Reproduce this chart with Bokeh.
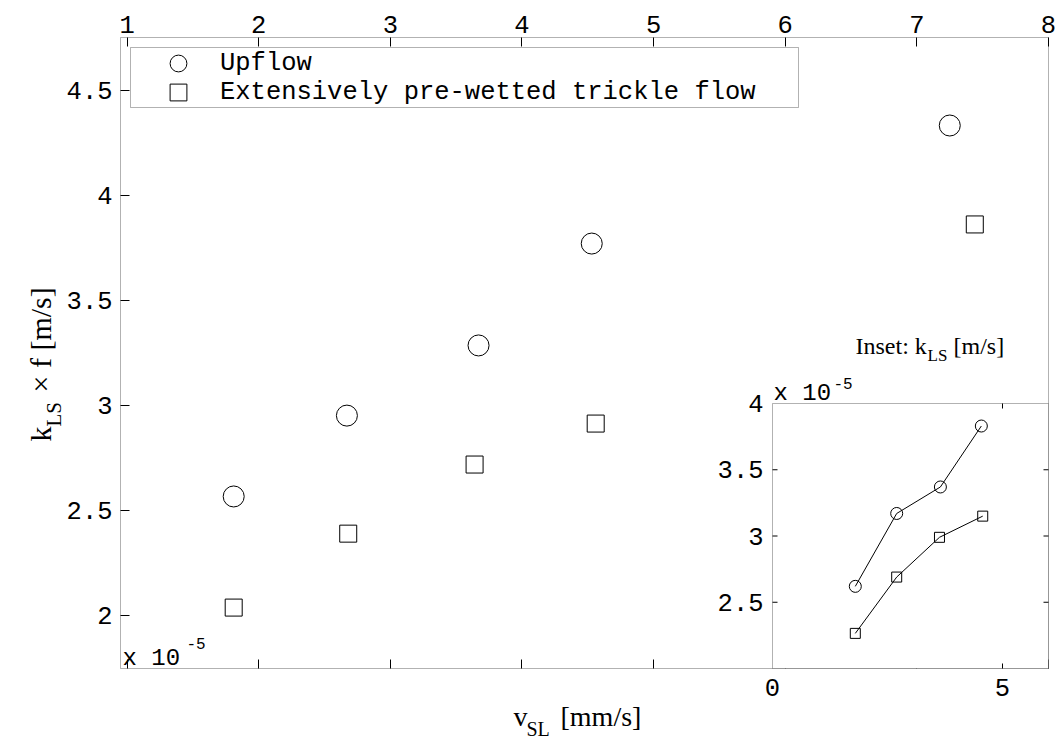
import math
from bokeh.plotting import figure
from bokeh.models import (Range1d, LinearAxis, FixedTicker, Legend, LegendItem,
                          BoxAnnotation, Label, LabelSet, ColumnDataSource)
from bokeh.core.properties import value
from bokeh.embed import file_html
from bokeh.resources import INLINE

# ---------------- data ----------------
# main plot: k_LS x f  [x 1e-5 m/s]  vs  v_SL [mm/s]
vsl_upflow = [1.81, 2.67, 3.67, 4.53, 7.25]
kf_upflow = [2.567, 2.952, 3.286, 3.771, 4.333]
vsl_trickle = [1.81, 2.68, 3.64, 4.56, 7.44]
kf_trickle = [2.038, 2.39, 2.719, 2.914, 3.862]

# inset: k_LS [x 1e-5 m/s] vs v_SL [mm/s]
inset_vsl_upflow = [1.8, 2.7, 3.65, 4.54]
inset_kls_upflow = [2.62, 3.17, 3.37, 3.83]
inset_vsl_trickle = [1.8, 2.7, 3.63, 4.57]
inset_kls_trickle = [2.265, 2.69, 2.99, 3.15]

series_names = ["Upflow", "Extensively pre-wetted trickle flow"]

main_x_ticks = [1, 2, 3, 4, 5, 6, 7, 8]
main_x_tick_labels = ["1", "2", "3", "4", "5", "6", "7", "8"]
main_y_ticks = [2, 2.5, 3, 3.5, 4, 4.5]
main_y_tick_labels = ["2", "2.5", "3", "3.5", "4", "4.5"]
inset_x_ticks = [0, 5]
inset_x_tick_labels = ["0", "5"]
inset_y_ticks = [2.5, 3, 3.5, 4]
inset_y_tick_labels = ["2.5", "3", "3.5", "4"]
inset_y_tick_marks = [2.5, 3, 3.5]
inset_x_tick_marks = [5]

# ---------------- layout constants (canvas pixels) ----------------
W, H = 1059, 743
BOX_L, BOX_R, BOX_T, BOX_B = 120, 1048, 37, 668      # main axes box
INSET_L, INSET_T = 772, 403                          # inset box (shares right/bottom)
X0, X1 = 0.95, 8.0                                   # main data extent of the box
Y0, Y1 = 1.748, 4.752
IX0, IX1 = 0.0, 6.0                                  # inset data extent of its box
IY0, IY1 = 2.0, 4.0

sx = (X1 - X0) / (BOX_R - BOX_L)
sy = (Y1 - Y0) / (BOX_B - BOX_T)
isx = (IX1 - IX0) / (BOX_R - INSET_L)
isy = (IY1 - IY0) / (BOX_B - INSET_T)

MONO = "Liberation Mono"
SERIF = "Liberation Serif"
TICK_FS = "25.5px"

p = figure(x_range=Range1d(X0 - BOX_L * sx, X1 + (W - BOX_R) * sx),
           y_range=Range1d(Y0 - (H - BOX_B) * sy, Y1 + BOX_T * sy),
           x_axis_type=None, y_axis_type=None, title=None,
           width=W, height=H, frame_width=W, frame_height=H, min_border=0,
           output_backend="svg", toolbar_location=None,
           background_fill_color="white", border_fill_color="white",
           outline_line_color=None)
p.extra_x_ranges = {"ix": Range1d(IX0 - INSET_L * isx, IX1 + (W - BOX_R) * isx),
                    "px": Range1d(0, W)}
p.extra_y_ranges = {"iy": Range1d(IY0 - (H - BOX_B) * isy, IY1 + INSET_T * isy),
                    "py": Range1d(H, 0)}


def style_axis(ax, size=TICK_FS, tick_in=9):
    ax.major_tick_in = tick_in
    ax.major_tick_out = 0
    ax.minor_tick_in = 0
    ax.minor_tick_out = 0
    ax.axis_line_color = None
    ax.major_tick_line_color = "black"
    ax.major_label_text_font = MONO
    ax.major_label_text_font_size = size
    ax.major_label_text_color = "black"


# top: tick marks on the box edge (labels drawn below as a label set)
top_ticks = LinearAxis(ticker=FixedTicker(ticks=main_x_ticks), fixed_location=Y1,
                       major_label_overrides={t: "" for t in main_x_ticks},
                       major_label_standoff=0)
style_axis(top_ticks, "1px")
p.add_layout(top_ticks, "above")

bottom_axis = LinearAxis(ticker=FixedTicker(ticks=main_x_ticks), fixed_location=Y0,
                         major_label_overrides={t: "" for t in main_x_ticks},
                         major_label_standoff=0)
style_axis(bottom_axis, "1px")
p.add_layout(bottom_axis, "below")

left_axis = LinearAxis(ticker=FixedTicker(ticks=main_y_ticks), fixed_location=X0,
                       major_label_overrides=dict(zip(main_y_ticks, main_y_tick_labels)),
                       major_label_standoff=8)
style_axis(left_axis)
p.add_layout(left_axis, "left")

# top tick labels
tsrc = ColumnDataSource(dict(x=main_x_ticks, y=[Y1] * len(main_x_ticks),
                             t=main_x_tick_labels))
p.add_layout(LabelSet(x="x", y="y", text="t", source=tsrc, x_offset=0, y_offset=13,
                      text_align="center", text_baseline="middle",
                      text_font=value(MONO), text_font_size=TICK_FS,
                      text_color="black"))

# main axes box
p.add_layout(BoxAnnotation(left=X0, right=X1, bottom=Y0, top=Y1, fill_color=None,
                           fill_alpha=0, line_color="black", line_width=1))

# ---------------- main series ----------------
r_up = p.scatter(vsl_upflow, kf_upflow, marker="circle", size=21,
                 fill_color=None, line_color="black", line_width=1)
r_tr = p.scatter(vsl_trickle, kf_trickle, marker="square", size=17,
                 fill_color=None, line_color="black", line_width=1)

# legend: one frame, one row per series
p.add_layout(BoxAnnotation(left=130, right=798, top=47, bottom=107,
                           x_range_name="px", y_range_name="py",
                           fill_color="white", fill_alpha=1,
                           line_color="black", line_width=1))
ROW_H = 42
for name, rend, row_center in [(series_names[0], r_up, 63), (series_names[1], r_tr, 92)]:
    lg = Legend(items=[LegendItem(label=name, renderers=[rend])],
                location=(157, H - (row_center + ROW_H // 2)),
                margin=0, padding=0, spacing=0,
                glyph_width=ROW_H, glyph_height=ROW_H, label_height=ROW_H,
                label_standoff=21,
                label_text_font=MONO, label_text_font_size=TICK_FS,
                label_text_color="black",
                border_line_color=None, background_fill_alpha=0)
    p.add_layout(lg)


def lab(text, x, y, size, font=SERIF, angle=0.0, level="annotation"):
    """Text placed at canvas pixel (x, y) = left end of its baseline."""
    p.add_layout(Label(x=x, y=y, x_range_name="px", y_range_name="py", text=text,
                       angle=angle, text_font=font, text_font_size=size,
                       text_color="black", text_baseline="alphabetic",
                       text_align="left", level=level))

# "x 10^-5" exponent of the main plot
lab("x 10", 122, 658, "24px", MONO)
lab("-5", 186, 643, "16px", MONO)

# axis titles (with subscripts)
lab("v", 513, 716, "28px")
lab("SL", 526, 728, "20px")
lab("[mm/s]", 560, 716, "28px")

lab("k", 40, 441, "30px", angle=math.pi / 2)
lab("LS", 53, 426, "21px", angle=math.pi / 2)
lab("\u00d7 f [m/s]", 40, 392, "30px", angle=math.pi / 2)

# ---------------- inset ----------------
p.add_layout(BoxAnnotation(left=IX0, right=IX1, bottom=IY0, top=IY1,
                           x_range_name="ix", y_range_name="iy",
                           fill_color="white", fill_alpha=1,
                           line_color="black", line_width=1))

ikw = dict(x_range_name="ix", y_range_name="iy", level="overlay")
p.line(inset_vsl_upflow, inset_kls_upflow, line_color="black", line_width=1, **ikw)
p.scatter(inset_vsl_upflow, inset_kls_upflow, marker="circle", size=12,
          fill_color=None, line_color="black", line_width=1, **ikw)
p.line(inset_vsl_trickle, inset_kls_trickle, line_color="black", line_width=1, **ikw)
p.scatter(inset_vsl_trickle, inset_kls_trickle, marker="square", size=10,
          fill_color=None, line_color="black", line_width=1, **ikw)

# inset tick marks (inward, all four sides)
tick_kw = dict(length=5, length_units="screen", line_color="black", line_width=1, **ikw)
p.ray(x=[IX0] * len(inset_y_tick_marks), y=inset_y_tick_marks, angle=0, **tick_kw)
p.ray(x=[IX1] * len(inset_y_tick_marks), y=inset_y_tick_marks, angle=math.pi, **tick_kw)
p.ray(x=inset_x_tick_marks, y=[IY0] * len(inset_x_tick_marks), angle=math.pi / 2, **tick_kw)
p.ray(x=inset_x_tick_marks, y=[IY1] * len(inset_x_tick_marks), angle=-math.pi / 2, **tick_kw)

# inset tick labels
ysrc = ColumnDataSource(dict(x=[IX0] * len(inset_y_ticks), y=inset_y_ticks,
                             t=inset_y_tick_labels))
p.add_layout(LabelSet(x="x", y="y", text="t", source=ysrc, x_range_name="ix",
                      y_range_name="iy", x_offset=-9, y_offset=0,
                      text_align="right", text_baseline="middle",
                      text_font=value(MONO), text_font_size=TICK_FS,
                      text_color="black", level="overlay"))
xsrc = ColumnDataSource(dict(x=inset_x_ticks, y=[IY0] * len(inset_x_ticks),
                             t=inset_x_tick_labels))
p.add_layout(LabelSet(x="x", y="y", text="t", source=xsrc, x_range_name="ix",
                      y_range_name="iy", x_offset=0, y_offset=-10,
                      text_align="center", text_baseline="top",
                      text_font=value(MONO), text_font_size=TICK_FS,
                      text_color="black", level="overlay"))

# inset exponent and title
lab("x 10", 773, 393, "24px", MONO, level="overlay")
lab("-5", 833, 383, "16px", MONO, level="overlay")
lab("Inset: k", 855, 345, "24px", level="overlay")
lab("LS", 927, 355, "17px", level="overlay")
lab("[m/s]", 953, 345, "24px", level="overlay")

open("out.html", "w").write(file_html(p, INLINE))
